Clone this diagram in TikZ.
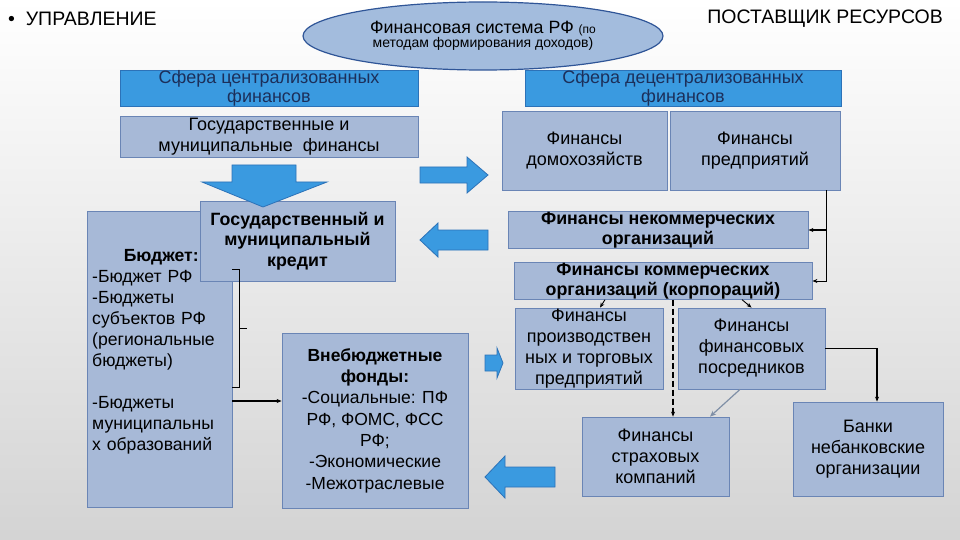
\documentclass[tikz,border=0pt]{standalone}
\usepackage{fontspec}
\setmainfont{Liberation Sans}
\usetikzlibrary{arrows.meta,shapes.geometric}
\definecolor{bright}{HTML}{3A9AE0}
\definecolor{brightedge}{HTML}{2C72B8}
\definecolor{gfill}{HTML}{A7B9D7}
\definecolor{gedge}{HTML}{6A85B5}
\definecolor{navytext}{HTML}{1C2F5A}
\definecolor{ellfill}{HTML}{A3BCDD}
\definecolor{elledge}{HTML}{2F5597}
\definecolor{grayarrow}{HTML}{7F8FA6}
\begin{document}
\begin{tikzpicture}[x=1pt,y=-1pt,
  gbox/.style={draw=gedge, fill=gfill, line width=0.8pt, align=center, inner sep=0pt,
    font=\fontsize{18}{21}\selectfont, text=black},
  bbox/.style={gbox, fill=bright, draw=brightedge, text=navytext, font=\fontsize{18}{19.5}\selectfont},
  boldbox/.style={gbox, font=\fontsize{17.8}{20.5}\selectfont\bfseries},
  blockarrow/.style={fill=bright, draw=brightedge, line width=0.8pt},
  conn/.style={black, line width=0.9pt, -{Stealth[length=5pt,width=4pt]}},
  title/.style={font=\fontsize{19.5}{22}\selectfont, text=black, inner sep=0pt}
]
\useasboundingbox (0,0) rectangle (960,540);
\shade[top color=white, bottom color=black!17] (0,0) rectangle (960,540);

% titles
\node[title, anchor=west] (upr) at (8,19) {•\ \ УПРАВЛЕНИЕ};
\node[title, anchor=east] (post) at (943,19) {ПОСТАВЩИК РЕСУРСОВ};

% ellipse
\node[ellipse, draw=elledge, fill=ellfill, line width=1.2pt, minimum width=360pt, minimum height=68pt,
  inner sep=0pt, align=center] (fs) at (483,36)
  {{\fontsize{17.8}{19}\selectfont Финансовая система РФ {\fontsize{12}{13}\selectfont(по}}\\[0pt]
   {\fontsize{14}{17}\selectfont методам формирования доходов)}};

% left column
\node[bbox, minimum width=298pt, minimum height=35pt] (cen) at (269,88.5) {Сфера централизованных\\финансов};
\node[gbox, minimum width=298pt, minimum height=41pt] (gmf) at (269,136.5) {Государственные и\\муниципальные\ \ финансы};

% right column
\node[bbox, minimum width=316pt, minimum height=35pt] (dec) at (683,88.5) {Сфера децентрализованных\\финансов};
\node[gbox, minimum width=165pt, minimum height=79pt] (dom) at (584.5,150.5) {Финансы\\домохозяйств};
\node[gbox, minimum width=170pt, minimum height=79pt] (pred) at (755,150.5) {Финансы\\предприятий};
\node[boldbox, minimum width=300pt, minimum height=34pt] (nek) at (658,230) {Финансы некоммерческих\\организаций};
\node[boldbox, minimum width=298pt, minimum height=34pt] (kom) at (663,281) {Финансы коммерческих\\организаций (корпораций)};
\node[gbox, minimum width=148pt, minimum height=81pt] (proizv) at (589,348.5) {Финансы\\производствен\\ных и торговых\\предприятий};
\node[gbox, minimum width=147pt, minimum height=81pt] (posr) at (751.5,348.5) {Финансы\\финансовых\\посредников};
\node[gbox, minimum width=147pt, minimum height=79pt] (strah) at (655.5,456.5) {Финансы\\страховых\\компаний};
\node[gbox, minimum width=150pt, minimum height=94pt] (bank) at (868,449) {Банки\\небанковские\\организации};

% budget block
\node[gbox, minimum width=145pt, minimum height=296pt] (budget) at (159.5,359) {};
\node[anchor=north west, inner sep=0pt, text width=138pt, align=left,
  font=\fontsize{17.6}{21}\selectfont] (budgettxt) at (92,249)
  {\makebox[138pt][c]{\bfseries Бюджет:}\\-Бюджет РФ\\-Бюджеты\\субъектов РФ\\(региональные\\бюджеты)\\[21pt]-Бюджеты\\муниципальны\\х образований};
\node[boldbox, minimum width=195pt, minimum height=80pt] (kredit) at (297.5,241) {Государственный и\\муниципальный\\кредит};
\node[gbox, minimum width=186pt, minimum height=175pt, font=\fontsize{17.5}{21.3}\selectfont] (vneb) at (375,420.5)
  {\textbf{Внебюджетные}\\\textbf{фонды:}\\-Социальные: ПФ\\РФ, ФОМС, ФСС\\РФ;\\-Экономические\\-Межотраслевые};

% block arrows
\draw[blockarrow] (232,165) -- (296,165) -- (296,182) -- (327,182) -- (263,207) -- (202,182) -- (232,182) -- cycle;
\draw[blockarrow] (420,167) -- (467,167) -- (467,157) -- (488,175) -- (467,193) -- (467,183) -- (420,183) -- cycle;
\draw[blockarrow] (420,240) -- (438,223) -- (438,230) -- (488,230) -- (488,250) -- (438,250) -- (438,257) -- cycle;
\draw[blockarrow] (485,355) -- (497,355) -- (497,348) -- (503,363) -- (497,378) -- (497,371) -- (485,371) -- cycle;
\draw[blockarrow] (485,477) -- (505,456) -- (505,467) -- (555,467) -- (555,487) -- (505,487) -- (505,498) -- cycle;

% bracket and budget arrow
\draw[black, line width=0.8pt] (232,269) -- (239,269) -- (239,387) -- (232,387);
\draw[black, line width=0.8pt] (239,328) -- (247,328);
\coordinate (ba) at (0,401);
\draw[conn, line width=2pt] (budget.east |- ba) -- (vneb.west |- ba);

% right connectors
\coordinate (jr) at ([xshift=-14pt]pred.south east);
\draw[conn] (jr) |- (kom.east);
\draw[conn, line width=2pt] (jr |- nek.east) -- (nek.east);
\draw[conn] ([xshift=-58pt]kom.south) -- ([xshift=11pt]proizv.north);
\draw[conn] ([xshift=79pt]kom.south) -- (posr.north);
\coordinate (d1) at ([xshift=10pt]kom.south);
\draw[conn, line width=1.8pt, dash pattern=on 6pt off 3pt] (d1) -- (d1 |- strah.north);
\draw[grayarrow, line width=1.2pt, -{Stealth[length=6pt,width=5pt]}] ([xshift=-11.5pt]posr.south) -- ([xshift=54.5pt]strah.north);
\draw[conn, line width=1.3pt] (posr.east) -| ([xshift=9pt]bank.north);
\end{tikzpicture}
\end{document}
